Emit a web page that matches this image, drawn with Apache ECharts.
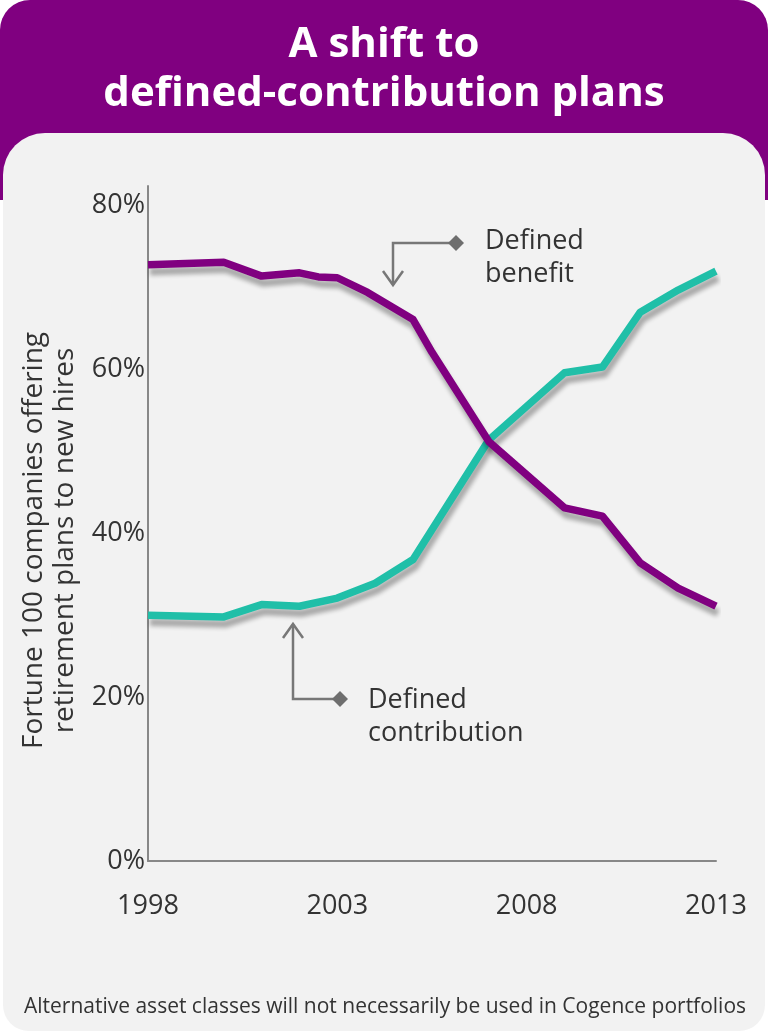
<!DOCTYPE html>
<html>
<head>
<meta charset="utf-8">
<script src="https://cdn.jsdelivr.net/npm/echarts@6/dist/echarts.min.js"></script>
<style>
html,body{margin:0;padding:0;background:#fff;}
#chart{width:768px;height:1033px;}
</style>
</head>
<body>
<div id="chart"></div>
<script>
// ---- data ----
var titleLines = ['A shift to', 'defined-contribution plans'];
var yAxisTitle = 'Fortune 100 companies offering\nretirement plans to new hires';
var footnote = 'Alternative asset classes will not necessarily be used in Cogence portfolios';

var benefitYears = [1998, 2000, 2001, 2002, 2002.5, 2003, 2003.8, 2005, 2005.5, 2007, 2009, 2010, 2011, 2012, 2013];
var benefitValues = [72.8, 73.1, 71.4, 71.8, 71.3, 71.2, 69.4, 66.1, 62.1, 51.2, 43.1, 42.1, 36.4, 33.3, 31.1];

var contribYears = [1998, 2000, 2001, 2002, 2003, 2004, 2005, 2007, 2009, 2010, 2011, 2012, 2013];
var contribValues = [30.0, 29.8, 31.3, 31.1, 32.1, 33.9, 36.8, 51.4, 59.6, 60.3, 67.0, 69.7, 72.0];

var xTicks = [1998, 2003, 2008, 2013];
var yTicks = [0, 20, 40, 60, 80];

var benefitLabel = 'Defined\nbenefit';
var contribLabel = 'Defined\ncontribution';

// ---- chart ----
var PURPLE = '#800080';
var TEAL = '#20bfa8';
var FONT = '"Open Sans", "Noto Sans", sans-serif';

function pairs(xs, ys) { return xs.map(function (x, i) { return [x, ys[i]]; }); }

var chart = echarts.init(document.getElementById('chart'), null, {renderer: 'canvas'});

var lineShadow = {
  shadowColor: 'rgba(0,0,0,0.3)',
  shadowBlur: 4,
  shadowOffsetX: 2,
  shadowOffsetY: 7
};

var option = {
  backgroundColor: '#ffffff',
  animation: false,
  grid: {left: 148, right: 52, top: 186, bottom: 172, containLabel: false, outerBoundsMode: 'none'},
  xAxis: {
    type: 'value',
    min: xTicks[0],
    max: xTicks[xTicks.length - 1],
    interval: 5,
    axisLine: {show: true, lineStyle: {color: '#888888', width: 2}},
    axisTick: {show: false},
    splitLine: {show: false},
    axisLabel: {
      margin: 32,
      fontSize: 27,
      color: '#333333',
      fontFamily: FONT,
      formatter: function (v) { return xTicks.indexOf(v) >= 0 ? String(v) : ''; }
    }
  },
  yAxis: {
    type: 'value',
    min: 0,
    max: 82.4,
    interval: 20,
    axisLine: {show: true, lineStyle: {color: '#888888', width: 2}},
    axisTick: {show: false},
    splitLine: {show: false},
    axisLabel: {
      showMaxLabel: false,
      margin: 3,
      fontSize: 27,
      color: '#333333',
      fontFamily: FONT,
      formatter: function (v) { return yTicks.indexOf(v) >= 0 ? v + '%' : ''; }
    },
    name: yAxisTitle,
    nameLocation: 'middle',
    nameRotate: 90,
    nameGap: 66,
    nameTextStyle: {
      fontSize: 28,
      lineHeight: 31,
      color: '#333333',
      fontFamily: FONT,
      padding: [0, 0, 0, -34]
    }
  },
  series: [
    {
      name: 'Defined contribution',
      type: 'line',
      data: pairs(contribYears, contribValues),
      symbol: 'none',
      lineStyle: Object.assign({color: TEAL, width: 7.5, join: 'round'}, lineShadow),
      z: 3
    },
    {
      name: 'Defined benefit',
      type: 'line',
      data: pairs(benefitYears, benefitValues),
      symbol: 'none',
      lineStyle: Object.assign({color: PURPLE, width: 7.5, join: 'round'}, lineShadow),
      z: 4
    }
  ],
  graphic: [
    // header band
    {type: 'rect', z: -20, shape: {x: 0, y: 0, width: 768, height: 200, r: [30, 30, 0, 0]}, style: {fill: PURPLE}},
    // grey panel
    {type: 'rect', z: -19, shape: {x: 3, y: 133, width: 762, height: 898, r: [42, 42, 26, 26]}, style: {fill: '#f2f2f2'}},
    // title
    {type: 'text', z: 10, x: 384, y: 45, style: {text: titleLines[0], fill: '#ffffff', font: 'bold 42px ' + FONT, textAlign: 'center', textVerticalAlign: 'middle'}},
    {type: 'text', z: 10, x: 384, y: 94, style: {text: titleLines[1], fill: '#ffffff', font: 'bold 42px ' + FONT, textAlign: 'center', textVerticalAlign: 'middle'}},
    // benefit annotation
    {type: 'polyline', z: 10, shape: {points: [[456, 243], [393, 243], [393, 285]]}, style: {stroke: '#777777', lineWidth: 2.5, fill: null}},
    {type: 'polyline', z: 10, shape: {points: [[383, 271], [393, 285], [403, 271]]}, style: {stroke: '#777777', lineWidth: 2.5, fill: null}},
    {type: 'polygon', z: 10, shape: {points: [[456, 235], [464, 243], [456, 251], [448, 243]]}, style: {fill: '#6e6e6e'}},
    {type: 'text', z: 10, x: 485, y: 258, style: {text: benefitLabel, fill: '#333333', font: '27px ' + FONT, lineHeight: 33, textAlign: 'left', textVerticalAlign: 'middle'}},
    // contribution annotation
    {type: 'polyline', z: 10, shape: {points: [[293, 624], [293, 699], [340, 699]]}, style: {stroke: '#777777', lineWidth: 2.5, fill: null}},
    {type: 'polyline', z: 10, shape: {points: [[283, 638], [293, 624], [303, 638]]}, style: {stroke: '#777777', lineWidth: 2.5, fill: null}},
    {type: 'polygon', z: 10, shape: {points: [[340, 691], [348, 699], [340, 707], [332, 699]]}, style: {fill: '#6e6e6e'}},
    {type: 'text', z: 10, x: 368, y: 717, style: {text: contribLabel, fill: '#333333', font: '27px ' + FONT, lineHeight: 33, textAlign: 'left', textVerticalAlign: 'middle'}},
    // footnote
    {type: 'text', z: 10, x: 385, y: 1007, style: {text: footnote, fill: '#333333', font: '21px ' + FONT, textAlign: 'center', textVerticalAlign: 'middle'}}
  ]
};

chart.setOption(option);
</script>
</body>
</html>
